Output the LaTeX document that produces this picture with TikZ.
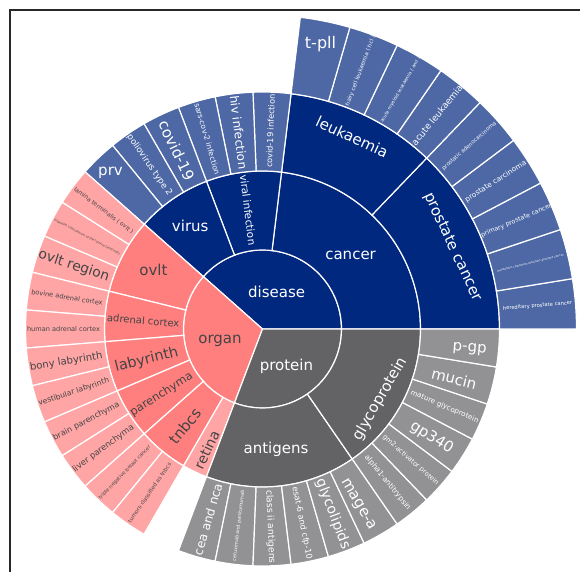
\documentclass[tikz,border=0pt]{standalone}
\usepackage{fontspec}
\setmainfont{DejaVu Sans}
\definecolor{navy}{RGB}{0,40,127}
\definecolor{lblue}{RGB}{77,104,165}
\definecolor{salmon}{RGB}{255,127,127}
\definecolor{lsalmon}{RGB}{255,165,165}
\definecolor{dgray}{RGB}{99,99,102}
\definecolor{lgray}{RGB}{146,146,148}
\definecolor{dtext}{RGB}{68,68,68}
\definecolor{framec}{RGB}{40,40,40}
\newcommand{\sunsec}[5]{%
  \pgfmathsetmacro\aA{({#1})*360/39}\pgfmathsetmacro\aB{({#2})*360/39}%
  \fill[#5, draw=white, line width=1.2pt] (\aA:#3pt) arc[start angle=\aA, end angle=\aB, radius=#3pt] -- (\aB:#4pt) arc[start angle=\aB, end angle=\aA, radius=#4pt] -- cycle;}
\newcommand{\sunwedge}[4]{%
  \pgfmathsetmacro\aA{({#1})*360/39}\pgfmathsetmacro\aB{({#2})*360/39}%
  \fill[#4, draw=white, line width=1.2pt] (0,0) -- (\aA:#3pt) arc[start angle=\aA, end angle=\aB, radius=#3pt] -- cycle;}
\newcommand{\sunlab}[7]{\node[lbl,#6,rotate=#3,font=\fontsize{#4}{#4}\selectfont] (#7) at (#1:#2pt) {#5};}
\begin{document}
\begin{tikzpicture}[x=1pt,y=1pt,
  lbl/.style={inner sep=0pt, text=white},
  dk/.style={text=dtext},
  wt/.style={text=white}]
\useasboundingbox (-262.5,-243) rectangle (317.5,329);
% frame
\draw[framec, line width=2pt] (-252.5,-243) -- (-252.5,319) -- (317.5,319);
% ring 1
\sunwedge{0}{15}{79}{navy}
\sunwedge{15}{27}{79}{salmon}
\sunwedge{27}{39}{79}{dgray}
% ring 2
\sunsec{0}{9}{79}{158}{navy}
\sunsec{9}{12}{79}{158}{navy}
\sunsec{12}{15}{79}{158}{navy}
\sunsec{15}{18}{79}{158}{salmon}
\sunsec{18}{20}{79}{158}{salmon}
\sunsec{20}{22}{79}{158}{salmon}
\sunsec{22}{24}{79}{158}{salmon}
\sunsec{24}{26}{79}{158}{salmon}
\sunsec{26}{27}{79}{158}{lsalmon}
\sunsec{27}{33}{79}{158}{dgray}
\sunsec{33}{39}{79}{158}{dgray}
% ring 3
\sunsec{0}{5}{158}{237}{navy}
\sunsec{5}{9}{158}{237}{navy}
\foreach \i in {9,...,14} {\sunsec{\i}{\i+1}{158}{237}{lblue}}
\foreach \i in {15,...,25} {\sunsec{\i}{\i+1}{158}{237}{lsalmon}}
\foreach \i in {27,...,38} {\sunsec{\i}{\i+1}{158}{237}{lgray}}
% ring 4
\foreach \i in {0,...,8} {\sunsec{\i}{\i+1}{237}{314}{lblue}}
% ring 1 labels
\sunlab{69.2}{40}{0}{15}{disease}{wt}{l1}
\sunlab{195}{44}{0}{15}{organ}{dk}{l2}
\sunlab{303}{44}{0}{15}{protein}{wt}{l3}
% ring 2 labels
\sunlab{40}{115}{0}{15}{cancer}{wt}{l4}
\sunlab{96.9}{120}{-83.1}{10.4}{viral infection}{wt}{l5}
\sunlab{125}{126}{0}{15}{virus}{wt}{l6}
\sunlab{151.6}{124}{0}{15}{ovlt}{dk}{l7}
\sunlab{176}{119.5}{-4.6}{10}{adrenal cortex}{dk}{l8}
\sunlab{195}{120}{13.8}{14.5}{labyrinth}{dk}{l9}
\sunlab{213}{120.5}{32.3}{11.5}{parenchyma}{dk}{l10}
\sunlab{231.5}{124}{50.8}{15}{tnbcs}{dk}{l11}
\sunlab{245.2}{133}{64.6}{14}{retina}{dk}{l12}
\sunlab{276.4}{121}{0}{15}{antigens}{wt}{l13}
\sunlab{329.2}{137}{60}{15}{glycoprotein}{wt}{l14}
% ring 3 labels
\sunlab{65}{212}{-25}{15}{leukaemia}{wt}{l15}
\sunlab{23.3}{207}{-65}{15}{prostate cancer}{wt}{l16}
\sunlab{87.7}{198}{87.7}{8.2}{covid-19 infection}{wt}{l17}
\sunlab{96.9}{198}{-83.1}{12}{hiv infection}{wt}{l18}
\sunlab{106.2}{198}{-73.8}{7.5}{sars-cov-2 infection}{wt}{l19}
\sunlab{115.6}{198}{-64.6}{15}{covid-19}{wt}{l20}
\sunlab{124.6}{199}{-55.4}{8.7}{poliovirus type 2}{wt}{l21}
\sunlab{134.2}{218}{0}{15}{prv}{wt}{l22}
\sunlab{143.3}{198}{-36.9}{5.9}{lamina terminalis ( ovlt )}{dk}{l23}
\sunlab{152.3}{198}{-27.7}{3.2}{organum vasculosum of the lamina terminalis}{dk}{l24}
\sunlab{161.5}{199}{-18.5}{13.8}{ovlt region}{dk}{l25}
\sunlab{170.8}{198}{-9.2}{6.6}{bovine adrenal cortex}{dk}{l26}
\sunlab{180}{199}{0}{6.6}{human adrenal cortex}{dk}{l27}
\sunlab{189.5}{199}{9.2}{10.1}{bony labyrinth}{dk}{l28}
\sunlab{198.5}{199}{18.5}{7.6}{vestibular labyrinth}{dk}{l29}
\sunlab{207.7}{199}{27.7}{8.1}{brain parenchyma}{dk}{l30}
\sunlab{216.9}{199}{36.9}{8.5}{liver parenchyma}{dk}{l31}
\sunlab{226.2}{199}{46.2}{5}{triple negative breast cancer}{dk}{l32}
\sunlab{235.4}{199}{55.4}{5.5}{tumors classified as tnbcs}{dk}{l33}
\sunlab{254}{198}{73.8}{12.2}{cea and nca}{wt}{l34}
\sunlab{263.1}{198}{83.1}{4.8}{cetuximab and panitumumab}{wt}{l35}
\sunlab{272.3}{198}{-87.7}{9.2}{class ii antigens}{wt}{l36}
\sunlab{281.5}{198}{-78.5}{8.3}{esat-6 and cfp-10}{wt}{l37}
\sunlab{290.8}{198}{-69.2}{14}{glycolipids}{wt}{l38}
\sunlab{298.6}{200}{-60}{15}{mage-a}{wt}{l39}
\sunlab{309.2}{198}{-50.8}{7.5}{alpha1-antitrypsin}{wt}{l40}
\sunlab{318.5}{198}{-41.5}{6.6}{gm2-activator protein}{wt}{l41}
\sunlab{327.3}{201}{-32.3}{15}{gp340}{wt}{l42}
\sunlab{336.9}{198}{-23.1}{7.2}{mature glycoprotein}{wt}{l43}
\sunlab{345.5}{198}{-13.8}{15}{mucin}{wt}{l44}
\sunlab{354.5}{208}{-4.6}{15}{p-gp}{wt}{l45}
% ring 4 labels
\sunlab{4.8}{276}{4.6}{5.2}{hereditary prostate cancer}{wt}{l46}
\sunlab{13.8}{276}{13.8}{2.9}{metastatic castration-resistant prostate cancer}{wt}{l47}
\sunlab{23.1}{276}{23.1}{6.3}{primary prostate cancer}{wt}{l48}
\sunlab{32.3}{276}{32.3}{7.3}{prostate carcinoma}{wt}{l49}
\sunlab{41.5}{276}{41.5}{5.4}{prostatic adenocarcinoma}{wt}{l50}
\sunlab{50.8}{276}{50.8}{9}{acute leukaemia}{wt}{l51}
\sunlab{60}{276}{60}{4.6}{acute myeloid leukaemia ( aml )}{wt}{l52}
\sunlab{69.2}{276}{69.2}{5.6}{hairy cell leukaemia ( hcl )}{wt}{l53}
\sunlab{78.5}{291}{0}{16}{t-pll}{wt}{l54}
\end{tikzpicture}
\end{document}
